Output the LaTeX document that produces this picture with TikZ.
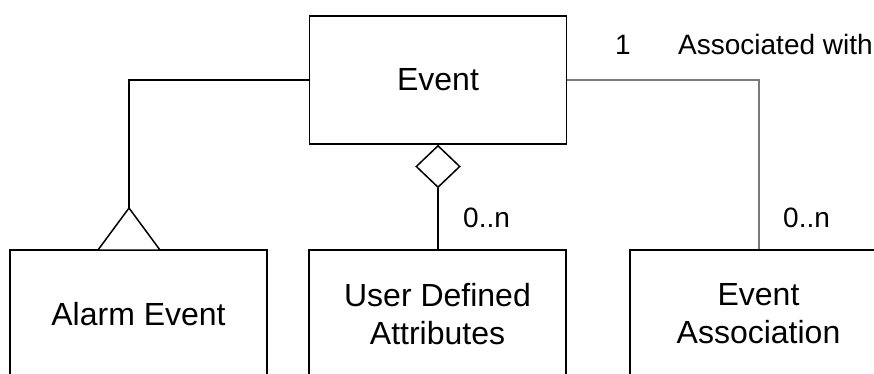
\documentclass[tikz,border=0pt]{standalone}
\usepackage{fontspec}
\setmainfont{Liberation Sans}
\usetikzlibrary{shapes.geometric}
\definecolor{assocgray}{HTML}{7A7A7A}
\tikzset{
  classbox/.style={draw=black, line width=1.5pt, fill=white, minimum width=257pt, minimum height=128pt,
    inner sep=0pt, align=center, font=\fontsize{32}{38}\selectfont},
  conn/.style={draw=black, line width=1.5pt},
  assoc/.style={draw=assocgray, line width=2pt},
  lbl/.style={inner sep=0pt, anchor=base west, font=\fontsize{28}{34}\selectfont},
  aggr/.style={diamond, draw=black, line width=1.5pt, fill=white, inner sep=0pt,
    minimum width=44pt, minimum height=42pt}
}
\begin{document}
\begin{tikzpicture}[x=1pt,y=-1pt]
\useasboundingbox (0,0) rectangle (874,374);
\clip (0,0) rectangle (874,374);
\fill[white] (0,0) rectangle (874,374);
\node[classbox] (ev) at (438,80) {Event};
\node[classbox] (alarm) at (138.5,314) {Alarm Event};
\node[classbox] (uda) at (437.5,314) {User Defined\\Attributes};
\node[classbox] (ea) at (758.5,314) {Event\\Association};
% generalisation
\coordinate (apex) at (129,208);
\draw[conn] (ev.west) -| (apex);
\draw[conn, fill=white] (98,250) -- (apex) -- (160,250) -- cycle;
% aggregation
\node[aggr, anchor=north] (dia) at (ev.south) {};
\draw[conn] (dia.south) -- (dia.south |- uda.north);
% association
\draw[assoc] (ev.east) -| (ea.north);
% labels
\node[lbl] (one) at (615,55) {1};
\node[lbl] (aw) at (678,55) {Associated with};
\node[lbl] (m1) at (463,227) {0..n};
\node[lbl] (m2) at (783,227) {0..n};
\end{tikzpicture}
\end{document}
